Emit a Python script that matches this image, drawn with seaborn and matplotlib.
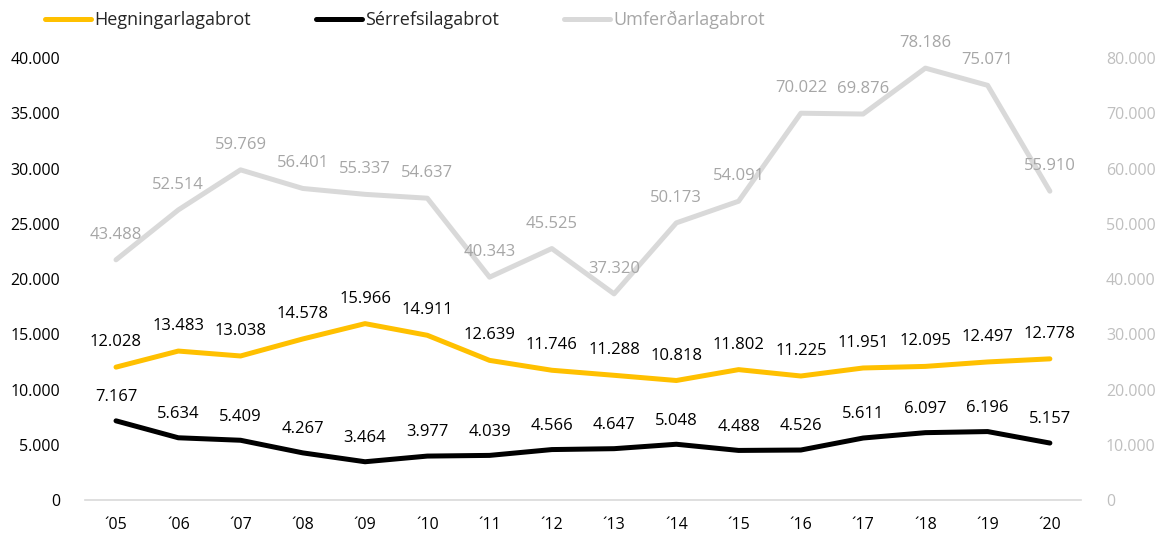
import matplotlib
matplotlib.use('Agg')
import numpy as np
import pandas as pd
import matplotlib.pyplot as plt
import seaborn as sns
from matplotlib.ticker import FuncFormatter

# data
years = list(range(2005, 2021))
year_labels = ['´05', '´06', '´07', '´08', '´09', '´10', '´11', '´12',
               '´13', '´14', '´15', '´16', '´17', '´18', '´19', '´20']
hegningarlagabrot = [12028, 13483, 13038, 14578, 15966, 14911, 12639, 11746,
                     11288, 10818, 11802, 11225, 11951, 12095, 12497, 12778]
serrefsilagabrot = [7167, 5634, 5409, 4267, 3464, 3977, 4039, 4566,
                    4647, 5048, 4488, 4526, 5611, 6097, 6196, 5157]
umferdarlagabrot = [43488, 52514, 59769, 56401, 55337, 54637, 40343, 45525,
                    37320, 50173, 54091, 70022, 69876, 78186, 75071, 55910]

YELLOW = '#FFC000'
BLACK = '#000000'
GRAY = '#D9D9D9'
GRAY_TEXT = '#A6A6A6'


def thousands(v, pos=None):
    return f'{int(v):,}'.replace(',', '.')


def main():
    sns.set_theme(style='white')
    plt.rcParams['font.family'] = ['Open Sans', 'DejaVu Sans']

    df = pd.DataFrame({'idx': np.arange(len(years)),
                       'Hegningarlagabrot': hegningarlagabrot,
                       'Sérrefsilagabrot': serrefsilagabrot,
                       'Umferðarlagabrot': umferdarlagabrot})

    fig = plt.figure(figsize=(11.63, 5.38), dpi=100)
    ax = fig.add_axes([0.073, 0.0706, 0.8565, 0.8214])
    ax2 = ax.twinx()

    sns.lineplot(ax=ax, data=df, x='idx', y='Hegningarlagabrot', color=YELLOW,
                 lw=3.6, label='Hegningarlagabrot', legend=False)
    sns.lineplot(ax=ax, data=df, x='idx', y='Sérrefsilagabrot', color=BLACK,
                 lw=3.6, label='Sérrefsilagabrot', legend=False)
    sns.lineplot(ax=ax2, data=df, x='idx', y='Umferðarlagabrot', color=GRAY,
                 lw=3.6, label='Umferðarlagabrot', legend=False)

    # value labels above each point
    for i in range(len(years)):
        ax.annotate(thousands(hegningarlagabrot[i]), (i, hegningarlagabrot[i]),
                    xytext=(0, 18), textcoords='offset points', ha='center',
                    va='center', fontsize=12, color=BLACK)
        ax.annotate(thousands(serrefsilagabrot[i]), (i, serrefsilagabrot[i]),
                    xytext=(0, 17), textcoords='offset points', ha='center',
                    va='center', fontsize=12, color=BLACK)
        ax2.annotate(thousands(umferdarlagabrot[i]), (i, umferdarlagabrot[i]),
                     xytext=(0, 18), textcoords='offset points', ha='center',
                     va='center', fontsize=12, color=GRAY_TEXT)

    ax.set_xlim(-0.5, len(years) - 0.5)
    ax.set_ylim(0, 40000)
    ax2.set_ylim(0, 80000)
    ax.set_yticks(range(0, 40001, 5000))
    ax2.set_yticks(range(0, 80001, 10000))
    ax.yaxis.set_major_formatter(FuncFormatter(thousands))
    ax2.yaxis.set_major_formatter(FuncFormatter(thousands))
    ax.set_xticks(range(len(years)))
    ax.set_xticklabels(year_labels)

    ax.tick_params(axis='y', length=0, pad=18, labelsize=11.5, colors=BLACK)
    ax2.tick_params(axis='y', length=0, pad=18, labelsize=11.5, colors='#BFBFBF')
    ax.tick_params(axis='x', length=0, pad=12, labelsize=11.5, colors=BLACK)
    ax.set_xlabel('')
    ax.set_ylabel('')
    ax2.set_ylabel('')

    for a in (ax, ax2):
        for side in ['top', 'left', 'right', 'bottom']:
            a.spines[side].set_visible(False)
    ax.spines['bottom'].set_visible(True)
    ax.spines['bottom'].set_color(GRAY)
    ax.spines['bottom'].set_linewidth(1.2)

    # legend at the top
    handles = ax.get_lines()[:2] + ax2.get_lines()[:1]
    leg = fig.legend(handles, ['Hegningarlagabrot', 'Sérrefsilagabrot', 'Umferðarlagabrot'],
                     loc='center left', bbox_to_anchor=(0.025, 0.963), ncol=3,
                     frameon=False, fontsize=13, handlelength=2.55,
                     handletextpad=0.17, columnspacing=3.6)
    leg.get_texts()[2].set_color(GRAY_TEXT)

    fig.savefig('out.png', dpi=100)


if __name__ == '__main__':
    main()
